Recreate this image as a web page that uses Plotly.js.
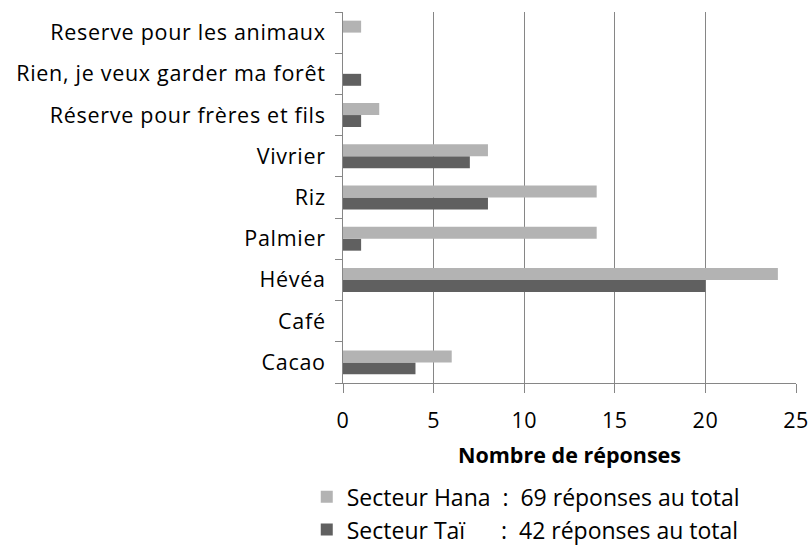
<!DOCTYPE html>
<html>
<head>
<meta charset="utf-8">
<script src="https://cdn.plot.ly/plotly-3.0.1.min.js"></script>
<style>
html,body{margin:0;padding:0;background:#fff;}
#chart{width:809px;height:545px;}
#chart .ytick text{letter-spacing:0.7px;}
#chart .xtick text{letter-spacing:0.5px;}
</style>
</head>
<body>
<div id="chart"></div>
<script>
const categories = ["Cacao", "Café", "Hévéa", "Palmier", "Riz", "Vivrier",
  "Réserve pour frères et fils", "Rien, je veux garder ma forêt", "Reserve pour les animaux"];
const hanaValues = [6, 0, 24, 14, 14, 8, 2, 0, 1];
const taiValues = [4, 0, 20, 1, 8, 7, 1, 1, 0];
const hanaName = "Secteur Hana\u00a0\u00a0:\u00a0\u00a069 réponses au total";
const taiName = "Secteur Taï\u00a0\u00a0\u00a0\u00a0\u00a0\u00a0:\u00a0\u00a042 réponses au total";
const xTicks = [0, 5, 10, 15, 20, 25];
const xTitle = "Nombre de réponses";

const FONT = "'Open Sans', Lato, sans-serif";
const FS = 21.5;

const data = [
  {type: "bar", orientation: "h", y: categories, x: taiValues, name: taiName,
   legendgroup: "tai", marker: {color: "#606060"}},
  {type: "bar", orientation: "h", y: categories, x: hanaValues, name: hanaName,
   legendgroup: "hana", marker: {color: "#b3b3b3"}}
];

const layout = {
  width: 809, height: 545,
  margin: {l: 343, r: 13, t: 12, b: 162},
  paper_bgcolor: "#fff", plot_bgcolor: "#fff",
  font: {family: FONT, size: FS, color: "#000"},
  barmode: "group", bargap: 0.42, bargroupgap: 0,
  showlegend: true,
  legend: {traceorder: "reversed", orientation: "v", xref: "paper", x: -0.08, xanchor: "left",
           yref: "container", y: 0.128, yanchor: "top",
           font: {family: FONT, size: 23, color: "#000"},
           tracegroupgap: 4, itemwidth: 30},
  xaxis: {range: [0, 25], tickvals: xTicks, ticktext: xTicks.map(String),
          showgrid: true, gridcolor: "#868686", gridwidth: 1,
          showline: true, linecolor: "#868686", linewidth: 1,
          ticks: "outside", ticklen: 9, tickcolor: "#868686",
          ticklabelstandoff: 9, zeroline: false,
          tickfont: {family: FONT, size: FS},
          title: {text: "<b>" + xTitle + "</b>", font: {family: FONT, size: FS}, standoff: 15}},
  yaxis: {type: "category", categoryorder: "array", categoryarray: categories,
          showline: true, linecolor: "#868686", linewidth: 1,
          ticks: "outside", ticklen: 7, tickcolor: "#868686", tickson: "boundaries",
          ticklabelstandoff: 12, showgrid: false, zeroline: false,
          tickfont: {family: FONT, size: FS}}
};

Plotly.newPlot("chart", data, layout, {displayModeBar: false, staticPlot: true});
</script>
</body>
</html>
